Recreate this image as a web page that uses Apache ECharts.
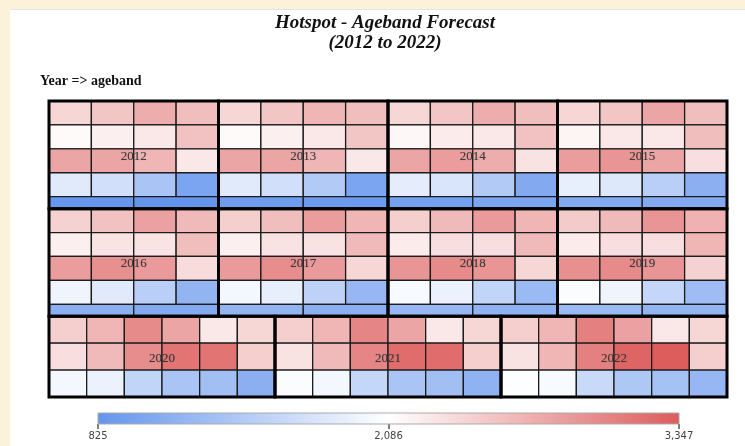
<!DOCTYPE html>
<html>
<head>
<meta charset="utf-8">
<script src="https://cdn.jsdelivr.net/npm/echarts@6/dist/echarts.min.js"></script>
<style>
html,body{margin:0;padding:0;background:#fff;}
#chart{width:745px;height:446px;}
</style>
</head>
<body>
<div id="chart"></div>
<script>
// ---------- data ----------
const years = ['2012','2013','2014','2015','2016','2017','2018','2019','2020','2021','2022'];
const agebands = ['0-4','5-9','10-14','15-19','20-24','25-29','30-34','35-39','40-44',
                  '45-49','50-54','55-59','60-64','65-69','70-74','75-79','80-84','85+'];
const v2012 = [2401,2527,2717,2590, 2124,2212,2275,2565, 2780,2780,2653,2275, 1834,1708,1392,1014, 840,825];
const v2013 = [2401,2527,2653,2590, 2124,2212,2275,2527, 2780,2780,2653,2275, 1834,1708,1455,1014, 905,890];
const v2014 = [2401,2527,2717,2590, 2149,2237,2275,2565, 2780,2843,2717,2313, 1872,1771,1455,1077, 951,1014];
const v2015 = [2401,2527,2780,2590, 2174,2275,2275,2590, 2843,2906,2780,2338, 1897,1809,1519,1140, 1077,1077];
const v2016 = [2439,2565,2817,2616, 2212,2300,2300,2590, 2843,2943,2868,2363, 1960,1834,1519,1203, 1140,1077];
const v2017 = [2464,2590,2843,2653, 2212,2313,2313,2616, 2868,2969,2868,2401, 1985,1897,1556,1229, 1203,1140];
const v2018 = [2464,2616,2868,2653, 2237,2338,2338,2616, 2906,2994,2906,2401, 2023,1935,1582,1266, 1229,1178];
const v2019 = [2489,2616,2906,2691, 2237,2338,2338,2653, 2943,2994,2906,2439, 2048,1960,1607,1304, 1266,1203];
const v2020 = [2464,2653,2994,2780,2275,2401, 2338,2616,2969,3158,3158,2464, 1998,1935,1582,1392,1329,1140];
const v2021 = [2464,2653,3032,2780,2275,2401, 2313,2616,3032,3221,3221,2464, 2048,1985,1607,1392,1329,1178];
const v2022 = [2464,2653,3070,2817,2275,2401, 2313,2653,3070,3284,3347,2464, 2073,2023,1644,1430,1355,1229];
const yearValues = [v2012,v2013,v2014,v2015,v2016,v2017,v2018,v2019,v2020,v2021,v2022];
const scaleTicks = [825, 2086, 3347];

// ---------- layout (ordered strip treemap, equal-size nodes) ----------
const GW = 678, GH = 296;      // layout units of the treemap grid
const TARGET = 1.6;            // preferred cell width/height
function stripLayout(n, x, y, w, h) {
  const rects = [];
  const areaEach = w * h / n;
  let i = 0, cy = y;
  while (i < n) {
    const rem = n - i;
    let bestK = 1, best = Infinity;
    for (let k = 1; k <= rem; k++) {
      const sh = k * areaEach / w, sw = w / k;
      const s = Math.abs(Math.log((sw / sh) / TARGET));
      if (s < best) { best = s; bestK = k; }
    }
    const sh = bestK * areaEach / w;
    for (let j = 0; j < bestK; j++) rects.push([x + j * w / bestK, cy, w / bestK, sh]);
    cy += sh; i += bestK;
  }
  return rects;
}
const yearRects = stripLayout(years.length, 0, 0, GW, GH);
const cellData = [];
const blockData = [];
years.forEach((yr, yi) => {
  const r = yearRects[yi];
  blockData.push([r[0], r[1], r[2], r[3], yr]);
  const vals = yearValues[yi];
  const cr = stripLayout(vals.length, r[0], r[1], r[2], r[3]);
  vals.forEach((v, ai) => {
    cellData.push({ name: yr + ' / ' + agebands[ai], value: [cr[ai][0], cr[ai][1], cr[ai][2], cr[ai][3], v] });
  });
});

const fmt = v => Math.round(v).toLocaleString('en-US');
const chart = echarts.init(document.getElementById('chart'), null, { renderer: 'canvas' });

function rectOf(api) {
  const x = api.value(0), y = api.value(1), w = api.value(2), h = api.value(3);
  const p0 = api.coord([x, y]);
  const p1 = api.coord([x + w, y + h]);
  return { x: p0[0], y: p0[1], width: p1[0] - p0[0], height: p1[1] - p0[1] };
}

chart.setOption({
  backgroundColor: '#ffffff',
  animation: false,
  graphic: [
    { type: 'rect', left: 0, top: 0, shape: { width: 745, height: 9 }, style: { fill: '#fbf2d9' }, z: -10 },
    { type: 'rect', left: 0, top: 0, shape: { width: 10, height: 446 }, style: { fill: '#fbf2d9' }, z: -10 },
    { type: 'rect', left: 10, top: 9, shape: { width: 735, height: 1 }, style: { fill: '#e3e4e8' }, z: -9 }
  ],
  title: [
    {
      text: 'Hotspot - Ageband Forecast\n(2012 to 2022)',
      left: 385, top: 13, textAlign: 'center', padding: 0,
      textStyle: { fontFamily: 'Liberation Serif', fontSize: 19, fontWeight: 'bold', fontStyle: 'italic', color: '#111', lineHeight: 20 }
    },
    {
      text: 'Year => ageband',
      left: 40, top: 74, padding: 0,
      textStyle: { fontFamily: 'Liberation Serif', fontSize: 14, fontWeight: 'bold', color: '#111' }
    }
  ],
  grid: [
    { left: 49, top: 101, width: 678, height: 296 },
    { left: 98, top: 413, width: 581, height: 11 }
  ],
  xAxis: [
    { gridIndex: 0, type: 'value', min: 0, max: GW, show: false },
    {
      gridIndex: 1, type: 'value', min: scaleTicks[0], max: scaleTicks[2],
      axisLine: { show: false }, splitLine: { show: false },
      axisTick: { show: true, customValues: scaleTicks, length: 5, lineStyle: { color: '#555', width: 1.5 } },
      axisLabel: { show: true, customValues: scaleTicks, margin: 7, fontSize: 10, color: '#444', fontFamily: 'DejaVu Sans', formatter: fmt }
    }
  ],
  yAxis: [
    { gridIndex: 0, type: 'value', min: 0, max: GH, inverse: true, show: false },
    { gridIndex: 1, type: 'value', min: 0, max: 1, show: false }
  ],
  visualMap: {
    show: false, type: 'continuous', seriesIndex: 0, dimension: 4,
    min: scaleTicks[0], max: scaleTicks[2],
    inRange: { color: ['#6495ed', '#ffffff', '#dd5c5c'] }
  },
  series: [
    {
      type: 'custom', xAxisIndex: 0, yAxisIndex: 0, data: cellData,
      renderItem: (params, api) => ({
        type: 'rect', shape: rectOf(api),
        style: { fill: api.visual('color'), stroke: '#1c1c1c', lineWidth: 1.3 }
      })
    },
    {
      type: 'custom', xAxisIndex: 0, yAxisIndex: 0, data: blockData, z: 5,
      renderItem: (params, api) => {
        const r = rectOf(api);
        return {
          type: 'group',
          children: [
            { type: 'rect', shape: r, style: { fill: 'none', stroke: '#000', lineWidth: 3 } },
            {
              type: 'text',
              style: {
                x: r.x + r.width / 2, y: r.y + r.height / 2 + 1.5,
                text: blockData[params.dataIndex][4],
                align: 'center', verticalAlign: 'middle',
                font: '13px "Liberation Serif"', fill: '#3c3c3c',
                textShadowColor: 'rgba(0,0,0,0.3)', textShadowBlur: 1
              }
            }
          ]
        };
      }
    },
    {
      type: 'custom', xAxisIndex: 1, yAxisIndex: 1, data: [[scaleTicks[0], scaleTicks[2]]],
      renderItem: (params, api) => {
        const p0 = api.coord([api.value(0), 1]);
        const p1 = api.coord([api.value(1), 0]);
        return {
          type: 'rect',
          shape: { x: p0[0], y: p0[1], width: p1[0] - p0[0], height: p1[1] - p0[1] },
          style: {
            fill: new echarts.graphic.LinearGradient(0, 0, 1, 0, [
              { offset: 0, color: '#6495ed' }, { offset: 0.5, color: '#ffffff' }, { offset: 1, color: '#dd5c5c' }
            ]),
            stroke: '#aaa', lineWidth: 1
          }
        };
      }
    }
  ]
});
</script>
</body>
</html>
